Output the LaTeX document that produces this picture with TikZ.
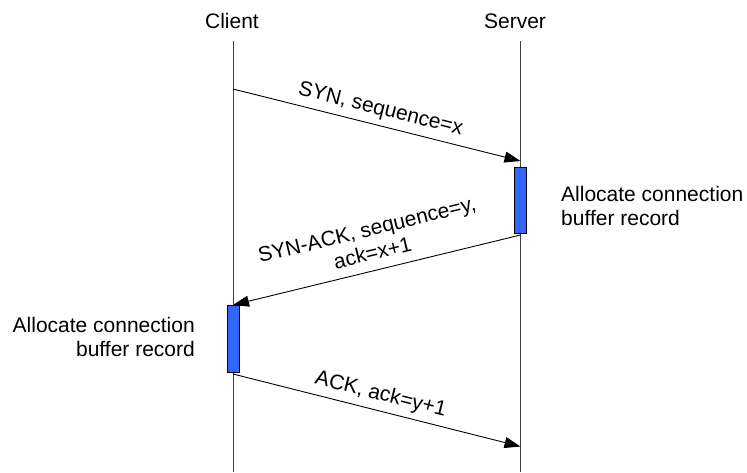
\documentclass[tikz,border=0pt]{standalone}
\usepackage{fontspec}
\setmainfont{Liberation Sans}
\usetikzlibrary{arrows.meta}
\definecolor{actblue}{RGB}{51,102,255}
\begin{document}
\begin{tikzpicture}[x=1pt,y=-1pt,
  lifeline/.style={draw=black!75, line width=0.9pt},
  actbox/.style={draw=black, line width=0.8pt, fill=actblue, minimum width=12pt, minimum height=66pt, inner sep=0pt, outer sep=0pt},
  msg/.style={draw=black, line width=0.9pt, -{Triangle[length=16pt,width=11pt]}},
  actor/.style={font=\fontsize{21}{24}\selectfont, anchor=base, inner sep=0pt},
  note/.style={font=\fontsize{21}{24}\selectfont, inner sep=0pt},
  lbl/.style={font=\fontsize{21}{24}\selectfont, sloped, above=7pt, inner sep=3pt, text depth=0pt, align=center}
]
\useasboundingbox (0,0) rectangle (747,472);
% actors
\node[actor] (client) at (232,28.3) {Client};
\node[actor] (server) at (515,28.3) {Server};
% lifelines
\coordinate (ctop) at (233,41);
\coordinate (cbot) at (233,472);
\coordinate (stop) at (520.5,41);
\coordinate (sbot) at (520.5,472);
\draw[lifeline] (ctop) -- (cbot);
\draw[lifeline] (stop) -- (sbot);
% activation boxes
\node[actbox, minimum height=66pt] (sbox) at (520.5,200.3) {};
\node[actbox, minimum height=67pt] (cbox) at (233,338.5) {};
% message end points
\coordinate (m1a) at (233,89);
\coordinate (m1b) at (520.5,161);
\coordinate (m2a) at (520.5,235);
\coordinate (m2b) at (233,305);
\coordinate (m3a) at (233,374);
\coordinate (m3b) at (520.5,446.5);
% messages
\draw[msg] (m1a) -- node[lbl, midway] (l1) {SYN, sequence=x} (m1b);
\draw[msg] (m2a) -- node[lbl, midway] (l2) {SYN-ACK, sequence=y,\\ack=x+1} (m2b);
\draw[msg] (m3a) -- node[lbl, midway] (l3) {ACK, ack=y+1} (m3b);
% notes
\node[note, anchor=north west, align=left] (snote) at (561,186.4) {Allocate connection\\buffer record};
\node[note, anchor=north east, align=right] (cnote) at (195,317.4) {Allocate connection\\buffer record};
\end{tikzpicture}
\end{document}
